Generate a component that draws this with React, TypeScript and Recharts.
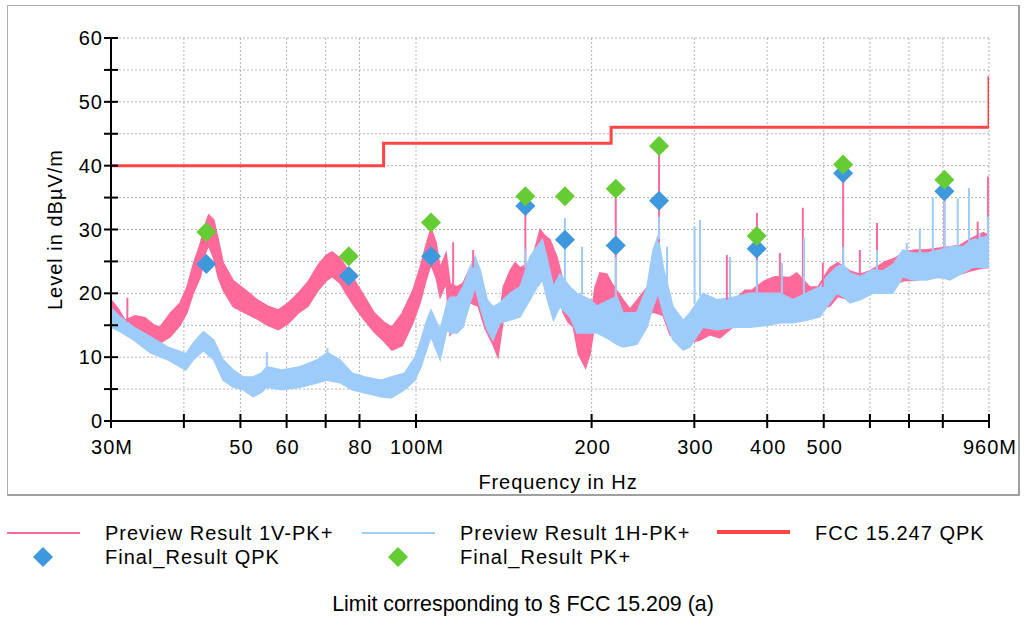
import React from 'react';
import { ComposedChart, Area, Line, Scatter, XAxis, YAxis, CartesianGrid } from 'recharts';

const FONT = '"Liberation Sans", Arial, Helvetica, sans-serif';

// ---- Preview Result 1V-PK+ (band: low / high envelope, dBµV/m) ----
const pinkFreq = [30.0, 30.9, 31.7, 33.0, 34.3, 35.6, 36.4, 37.9, 39.4, 40.5, 41.5, 42.7, 43.6, 44.1, 45.0, 45.8, 46.7, 48.6, 51.0, 53.4, 55.7, 58.1, 60.4, 62.8, 65.3, 68.0, 70.2, 71.8, 74.1, 76.1, 78.5, 81.6, 84.7, 88.1, 90.9, 94.7, 98.8, 101.6, 104.0, 106.1, 108.2, 110.0, 112.6, 114.4, 117.6, 120.4, 123.8, 127.8, 131.3, 135.5, 138.2, 141.1, 144.9, 147.8, 150.8, 156.8, 159.9, 163.2, 166.4, 169.7, 174.4, 178.7, 182.3, 186.1, 189.8, 195.3, 198.7, 202.8, 206.7, 212.5, 216.8, 226.4, 232.7, 242.1, 251.8, 256.9, 265.3, 272.5, 283.4, 294.8, 306.7, 319.0, 331.8, 352.2, 366.3, 376.5, 396.4, 412.3, 437.4, 449.6, 473.3, 488.6, 512.2, 528.6, 554.3, 576.6, 599.8, 638.8, 662.0, 688.6, 716.3, 745.2, 775.1, 822.4, 855.5, 889.9, 939.0, 960.0];
const pinkLo = [15.8, 14.5, 13.8, 13.5, 13.5, 12.7, 12.2, 13.2, 15.0, 17.0, 20.0, 22.6, 26.5, 27.5, 25.5, 22.5, 20.5, 17.9, 16.9, 16.0, 15.0, 14.3, 15.3, 16.9, 18.0, 20.5, 22.0, 22.6, 21.6, 19.8, 17.9, 15.8, 14.0, 12.5, 11.1, 11.8, 15.4, 18.5, 22.0, 24.5, 22.5, 19.4, 21.6, 13.5, 15.0, 16.3, 18.5, 18.0, 14.5, 12.0, 10.0, 15.8, 18.0, 19.0, 19.5, 19.0, 21.0, 25.0, 22.5, 21.0, 21.0, 17.0, 15.5, 14.7, 10.5, 8.3, 10.5, 15.5, 17.9, 18.0, 16.5, 14.8, 14.5, 14.5, 17.0, 17.0, 16.5, 13.5, 12.7, 12.3, 12.7, 13.5, 13.0, 15.0, 15.5, 16.0, 16.0, 16.5, 16.0, 16.5, 17.0, 17.5, 18.0, 19.5, 19.0, 19.5, 20.0, 21.0, 21.5, 22.0, 22.0, 22.5, 22.5, 22.5, 23.0, 23.5, 24.0, 24.0];
const pinkHi = [19.0, 17.5, 15.8, 16.5, 16.2, 15.0, 14.7, 16.9, 18.5, 21.0, 24.5, 27.9, 31.0, 32.3, 31.5, 28.5, 24.8, 22.0, 20.5, 19.0, 18.0, 17.4, 18.5, 20.0, 21.8, 24.5, 26.0, 26.5, 25.5, 24.0, 22.0, 19.5, 17.0, 15.5, 14.7, 16.9, 20.5, 24.0, 27.5, 30.2, 28.0, 24.0, 26.3, 21.5, 21.0, 21.6, 24.0, 23.0, 19.5, 17.0, 14.0, 21.0, 23.5, 24.8, 24.0, 24.8, 27.0, 30.0, 29.0, 28.4, 25.7, 22.0, 20.0, 19.0, 16.3, 13.8, 15.5, 21.0, 23.2, 23.0, 21.5, 19.0, 17.5, 19.5, 21.5, 23.0, 22.5, 18.0, 15.8, 14.8, 17.9, 17.0, 16.5, 19.0, 20.5, 20.5, 22.0, 22.6, 22.5, 23.2, 21.0, 21.0, 24.0, 24.8, 23.5, 23.0, 23.5, 25.0, 25.5, 26.5, 26.8, 26.8, 27.0, 27.3, 27.5, 28.5, 29.5, 29.0];
// narrow spikes of the 1V trace (start at the visible band top)
const pinkSpikeFreq = [32.0, 115.8, 125.3, 154.0, 220.0, 261.0, 341.1, 384.1, 420.5, 460.4, 498.2, 539.8, 576.6, 617.0, 805.0, 918.0, 956.0];
const pinkSpikeBase = [15.5, 21.0, 24.0, 24.0, 21.0, 28.0, 19.0, 20.0, 22.0, 22.5, 21.0, 24.5, 23.0, 24.0, 27.0, 28.5, 29.0];
const pinkSpikeTop = [19.3, 28.0, 26.8, 34.0, 36.4, 43.1, 26.0, 32.6, 26.3, 33.4, 24.8, 38.9, 26.8, 31.0, 36.0, 31.2, 38.3];

// ---- Preview Result 1H-PK+ ----
const blueFreq = [30.0, 31.1, 32.8, 35.0, 37.5, 39.4, 40.3, 41.5, 43.2, 45.0, 46.7, 48.6, 50.5, 52.6, 54.3, 55.5, 58.9, 63.3, 67.8, 70.5, 74.1, 77.7, 81.9, 87.1, 90.6, 95.6, 99.6, 102.0, 104.1, 106.1, 110.0, 113.0, 114.4, 117.6, 120.4, 123.8, 126.3, 128.8, 132.4, 135.5, 139.3, 144.9, 150.8, 156.8, 161.3, 164.7, 168.0, 172.0, 176.5, 183.7, 188.8, 198.7, 204.3, 215.0, 221.0, 226.4, 239.2, 248.9, 254.9, 260.0, 265.3, 275.8, 287.1, 294.8, 310.3, 328.0, 350.2, 373.5, 401.4, 420.5, 442.6, 466.6, 492.4, 506.2, 525.9, 539.8, 554.3, 576.6, 606.9, 631.3, 656.8, 683.3, 710.6, 751.0, 790.6, 822.4, 865.8, 900.6, 951.7, 960.0];
const blueLo = [14.7, 14.0, 12.7, 10.7, 9.6, 8.5, 8.0, 9.6, 11.0, 9.6, 6.4, 5.3, 4.9, 3.8, 4.5, 5.3, 4.9, 5.3, 6.0, 6.4, 6.0, 4.9, 4.4, 3.8, 3.6, 4.9, 6.4, 8.5, 11.0, 13.2, 9.6, 14.3, 13.8, 13.8, 14.7, 18.5, 21.0, 17.9, 14.3, 12.7, 15.4, 15.8, 16.3, 19.0, 21.0, 22.1, 19.0, 15.8, 17.9, 16.3, 13.8, 13.8, 13.8, 12.7, 12.0, 11.6, 12.0, 14.7, 17.9, 20.0, 16.9, 12.7, 11.1, 11.6, 14.7, 14.3, 14.7, 14.7, 15.0, 15.4, 15.4, 15.8, 16.3, 17.9, 20.0, 19.5, 18.5, 19.0, 20.0, 20.0, 20.0, 22.6, 22.1, 22.1, 22.6, 22.1, 23.2, 24.1, 24.1, 24.0];
const blueHi = [17.7, 16.3, 14.7, 13.2, 11.6, 10.9, 10.5, 12.2, 14.0, 12.7, 9.6, 8.0, 6.9, 6.9, 7.5, 8.5, 8.0, 8.5, 9.6, 10.7, 9.6, 7.5, 6.9, 6.4, 6.9, 7.5, 10.0, 12.7, 15.5, 17.4, 14.3, 18.5, 19.4, 19.4, 21.0, 24.1, 25.7, 23.7, 19.0, 17.9, 18.5, 20.0, 21.0, 25.7, 27.3, 28.4, 25.2, 21.0, 23.0, 21.0, 20.0, 19.0, 18.0, 19.0, 19.5, 16.9, 17.0, 21.0, 26.8, 29.0, 24.1, 17.9, 15.8, 16.9, 20.0, 19.0, 19.4, 20.0, 20.0, 20.0, 19.0, 20.0, 21.0, 22.6, 24.1, 24.5, 23.2, 22.6, 23.7, 23.5, 24.5, 26.8, 26.3, 26.3, 26.8, 27.3, 27.3, 28.4, 28.9, 28.5];
const blueSpikeFreq = [55.5, 70.5, 154.0, 180.0, 192.6, 220.1, 261.0, 269.4, 300.3, 306.7, 345.2, 384.1, 423.9, 462.4, 539.8, 617.0, 694.0, 730.6, 769.0, 805.0, 848.6, 887.0, 925.7, 956.0];
const blueSpikeBase = [8.3, 10.5, 24.0, 21.5, 19.8, 19.3, 28.5, 21.0, 18.5, 19.5, 19.3, 19.8, 19.8, 19.8, 24.3, 23.6, 26.5, 26.3, 26.5, 27.0, 27.2, 28.0, 28.6, 28.8];
const blueSpikeTop = [10.8, 11.4, 27.0, 31.8, 27.3, 25.7, 32.0, 27.3, 30.5, 31.5, 25.7, 25.2, 24.8, 28.7, 27.3, 26.8, 27.9, 30.2, 35.1, 35.0, 34.9, 36.5, 29.5, 32.0];

// ---- Limit FCC 15.247 QPK ----
const limitFreq = [30, 88, 88, 216, 216, 960, 960];
const limitLevel = [40, 40, 43.5, 43.5, 46, 46, 54];

// ---- Final results ----
const finalFreq = [43.7, 76.7, 106.1, 154.0, 180.0, 220.0, 261.0, 383.7, 539.8, 805.0];
const finalQPK = [24.6, 22.7, 25.8, 33.7, 28.4, 27.5, 34.5, 27.0, 38.8, 36.0];
const finalPK = [29.6, 25.8, 31.1, 35.2, 35.2, 36.4, 43.1, 29.0, 40.2, 37.8];

// ---- Axis ticks ----
const xTicks = [30, 40, 50, 60, 70, 80, 100, 200, 300, 400, 500, 600, 700, 800, 960];
const xTickText = ['30M', '', '50', '60', '', '80', '100M', '200', '300', '400', '500', '', '', '', '960M'];
const yTicks = [0, 5, 10, 15, 20, 25, 30, 35, 40, 45, 50, 55, 60];
const yTickText = ['0', '', '10', '', '20', '', '30', '', '40', '', '50', '', '60'];

const PINK = '#ff6a9b';
const LIGHTBLUE = '#9dccfa';
const RED = '#ff4545';
const DBLUE = '#3d98de';
const GREEN = '#66cc33';

const pinkBand = pinkFreq.map((f, i) => ({ f, r: [pinkLo[i], pinkHi[i]] }));
const blueBand = blueFreq.map((f, i) => ({ f, r: [blueLo[i], blueHi[i]] }));
const pinkSpikes = pinkSpikeFreq.flatMap((f, i) => [
  { f, v: pinkSpikeBase[i] },
  { f, v: pinkSpikeTop[i] },
  { f, v: null },
]);
const blueSpikes = blueSpikeFreq.flatMap((f, i) => [
  { f, v: blueSpikeBase[i] },
  { f, v: blueSpikeTop[i] },
  { f, v: null },
]);
const limitData = limitFreq.map((f, i) => ({ f, v: limitLevel[i] }));
const qpkData = finalFreq.map((f, i) => ({ f, v: finalQPK[i] }));
const pkData = finalFreq.map((f, i) => ({ f, v: finalPK[i] }));

const XTick = (props: any) => {
  const { x, y, payload } = props;
  const idx = xTicks.indexOf(payload.value);
  const label = idx >= 0 ? xTickText[idx] : '';
  return (
    <g>
      <line x1={x} x2={x} y1={y - 7} y2={y + 7} stroke="#000" strokeWidth={2} />
      {label ? (
        <text x={x + 1} y={y + 33} textAnchor="middle" fontSize={20} fontFamily={FONT} letterSpacing={1} fill="#000">
          {label}
        </text>
      ) : null}
    </g>
  );
};

const YTick = (props: any) => {
  const { x, y, payload } = props;
  const idx = yTicks.indexOf(payload.value);
  const label = idx >= 0 ? yTickText[idx] : '';
  return (
    <g>
      <line x1={x - 7} x2={x + 7} y1={y} y2={y} stroke="#000" strokeWidth={2} />
      {label ? (
        <text x={x - 8} y={y + 7} textAnchor="end" fontSize={20} fontFamily={FONT} letterSpacing={1} fill="#000">
          {label}
        </text>
      ) : null}
    </g>
  );
};

const Diamond = (props: any) => {
  const { cx, cy, fill } = props;
  if (cx == null || cy == null) return null;
  return <polygon points={`${cx},${cy - 10} ${cx + 10},${cy} ${cx},${cy + 10} ${cx - 10},${cy}`} fill={fill} />;
};

const legendText = { fontSize: 20, fontFamily: FONT, letterSpacing: 1, fill: '#000' } as const;

export default function App() {
  return (
    <div style={{ position: 'absolute', left: 0, top: 0, width: 1031, height: 618, background: '#fff', overflow: 'hidden' }}>
      <div
        style={{
          position: 'absolute',
          left: 7,
          top: 5,
          width: 1010,
          height: 488,
          borderTop: '1px solid #b0b0b0',
          borderLeft: '1px solid #b0b0b0',
          borderRight: '2px solid #a0a0a0',
          borderBottom: '2px solid #a0a0a0',
        }}
      />
      <div style={{ position: 'absolute', left: 0, top: 0 }}>
        <ComposedChart width={1031} height={500} margin={{ top: 38, right: 42, left: 51, bottom: 39 }} style={{ fontFamily: FONT }}>
          <CartesianGrid stroke="#b4b4b4" strokeDasharray="2 2" strokeWidth={1} />
          <XAxis
            dataKey="f"
            type="number"
            scale="log"
            domain={[30, 960]}
            allowDataOverflow
            ticks={xTicks}
            interval={0}
            height={40}
            tickSize={0}
            tickMargin={0}
            tickLine={false}
            axisLine={{ stroke: '#000', strokeWidth: 2 }}
            tick={<XTick />}
          />
          <YAxis
            type="number"
            domain={[0, 60]}
            ticks={yTicks}
            interval={0}
            width={60}
            tickSize={0}
            tickMargin={0}
            tickLine={false}
            axisLine={{ stroke: '#000', strokeWidth: 2 }}
            tick={<YTick />}
          />
          <Area data={pinkBand} dataKey="r" type="linear" stroke={PINK} strokeWidth={1.5} fill={PINK} fillOpacity={1} dot={false} activeDot={false} isAnimationActive={false} />
          <Line data={pinkSpikes} dataKey="v" type="linear" stroke={PINK} strokeWidth={2} dot={false} activeDot={false} connectNulls={false} isAnimationActive={false} />
          <Area data={blueBand} dataKey="r" type="linear" stroke={LIGHTBLUE} strokeWidth={1.5} fill={LIGHTBLUE} fillOpacity={1} dot={false} activeDot={false} isAnimationActive={false} />
          <Line data={blueSpikes} dataKey="v" type="linear" stroke={LIGHTBLUE} strokeWidth={2} dot={false} activeDot={false} connectNulls={false} isAnimationActive={false} />
          <Line data={limitData} dataKey="v" type="linear" stroke={RED} strokeWidth={3} dot={false} activeDot={false} isAnimationActive={false} />
          <Scatter data={qpkData} dataKey="v" fill={DBLUE} shape={<Diamond />} isAnimationActive={false} />
          <Scatter data={pkData} dataKey="v" fill={GREEN} shape={<Diamond />} isAnimationActive={false} />
        </ComposedChart>
      </div>
      <svg style={{ position: 'absolute', left: 0, top: 0 }} width={1031} height={618}>
        <text transform="translate(62,229.5) rotate(-90)" textAnchor="middle" fontSize={20} fontFamily={FONT} letterSpacing={1} fill="#000">
          Level in dBµV/m
        </text>
        <text x={558} y={488.5} textAnchor="middle" fontSize={20} fontFamily={FONT} letterSpacing={0.9} fill="#000">
          Frequency in Hz
        </text>

        <line x1={7} x2={80} y1={533} y2={533} stroke={PINK} strokeWidth={2} />
        <text x={105} y={540} {...legendText}>Preview Result 1V-PK+</text>
        <line x1={362} x2={435} y1={533} y2={533} stroke={LIGHTBLUE} strokeWidth={2} />
        <text x={460} y={540} {...legendText}>Preview Result 1H-PK+</text>
        <line x1={717} x2={790} y1={532} y2={532} stroke={RED} strokeWidth={4} />
        <text x={815} y={540} {...legendText}>FCC 15.247 QPK</text>

        <polygon points="43,547 53,557 43,567 33,557" fill={DBLUE} />
        <text x={105} y={564} {...legendText}>Final_Result QPK</text>
        <polygon points="398,547 408,557 398,567 388,557" fill={GREEN} />
        <text x={460} y={564} {...legendText}>Final_Result PK+</text>

        <text x={523} y={611} textAnchor="middle" fontSize={21.4} fontFamily={FONT} fill="#000">
          Limit corresponding to § FCC 15.209 (a)
        </text>
      </svg>
    </div>
  );
}
